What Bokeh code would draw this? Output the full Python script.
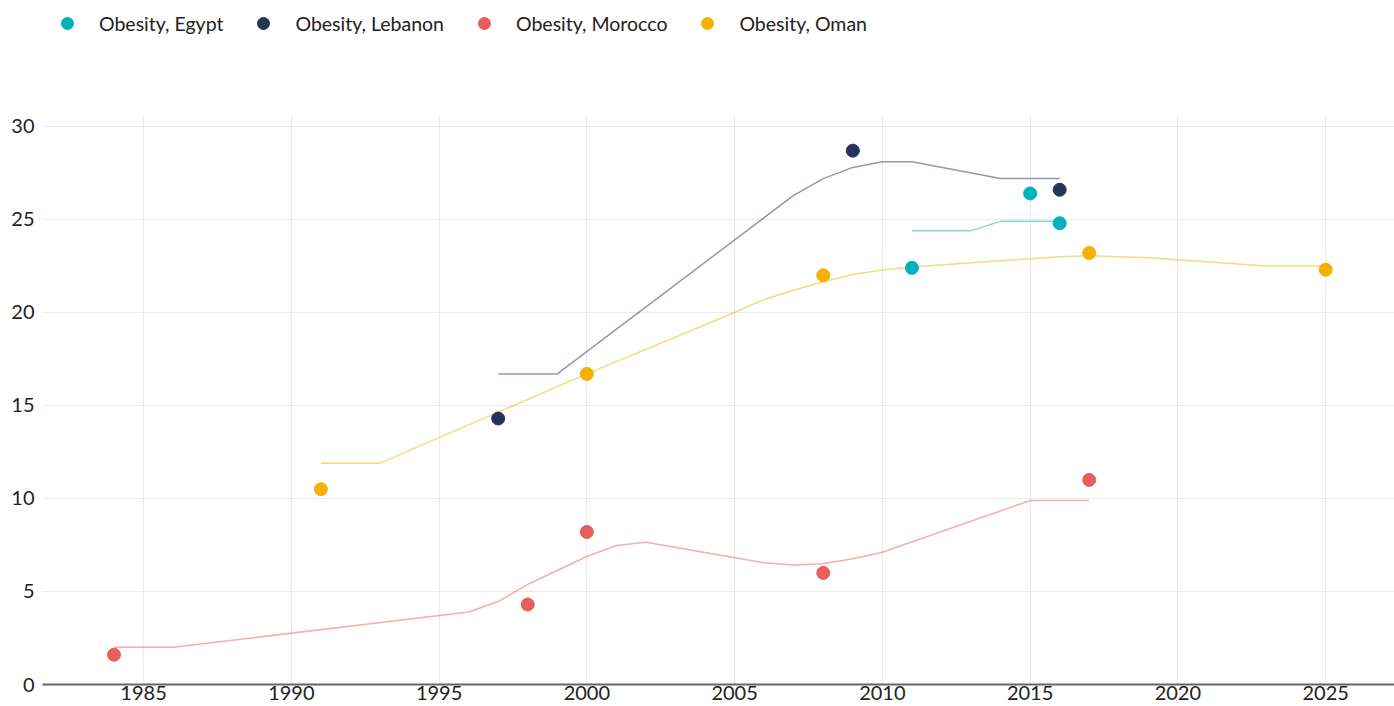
from bokeh.plotting import figure
from bokeh.models import Legend, LegendItem, FixedTicker, Range1d
from bokeh.layouts import column
from bokeh.embed import file_html
from bokeh.resources import INLINE

# Observed data points
egypt_years = [2011, 2015, 2016]
egypt_vals = [22.4, 26.4, 24.8]
lebanon_years = [1997, 2009, 2016]
lebanon_vals = [14.3, 28.7, 26.6]
morocco_years = [1984, 1998, 2000, 2008, 2017]
morocco_vals = [1.6, 4.3, 8.2, 6.0, 11.0]
oman_years = [1991, 2000, 2008, 2017, 2025]
oman_vals = [10.5, 16.7, 22.0, 23.2, 22.3]

# Trend lines
egypt_trend_years = [2011, 2013, 2014, 2016]
egypt_trend_vals = [24.4, 24.4, 24.9, 24.9]
lebanon_trend_years = [1997, 1999, 2007, 2008, 2009, 2010, 2011, 2014, 2016]
lebanon_trend_vals = [16.7, 16.7, 26.3, 27.2, 27.8, 28.1, 28.1, 27.2, 27.2]
morocco_trend_years = [1984, 1986, 1996, 1997, 1998, 1999, 2000, 2001, 2002, 2006, 2007, 2008, 2009, 2010, 2015, 2017]
morocco_trend_vals = [2.0, 2.0, 3.9, 4.46, 5.38, 6.13, 6.88, 7.47, 7.65, 6.54, 6.43, 6.49, 6.76, 7.11, 9.89, 9.89]
oman_trend_years = [1991, 1993, 2000, 2005, 2006, 2007, 2008, 2009, 2010, 2011, 2016, 2017, 2019, 2023, 2025]
oman_trend_vals = [11.9, 11.9, 16.7, 20.0, 20.7, 21.2, 21.65, 22.04, 22.29, 22.45, 23.0, 23.05, 22.95, 22.5, 22.5]

series_labels = ["Obesity, Egypt", "Obesity, Lebanon", "Obesity, Morocco", "Obesity, Oman"]
colors = ["#00B2BB", "#28335C", "#E85D5D", "#F5B100"]

x_ticks = [1985, 1990, 1995, 2000, 2005, 2010, 2015, 2020, 2025]
y_ticks = [0, 5, 10, 15, 20, 25, 30]

FONT = "Lato"
TEXT_COLOR = "#222222"

# ---------- main chart ----------
p = figure(width=1394, height=660, output_backend="svg", toolbar_location=None,
           x_range=Range1d(1981.58, 2027.33), y_range=Range1d(0, 30.645),
           min_border_left=42, min_border_right=0, min_border_top=68, min_border_bottom=22)
p.outline_line_color = None
p.background_fill_color = "white"
p.border_fill_color = "white"

p.xgrid.grid_line_color = "#EBEBEB"
p.ygrid.grid_line_color = "#EBEBEB"
p.xgrid.ticker = FixedTicker(ticks=x_ticks)
p.ygrid.ticker = FixedTicker(ticks=y_ticks)

p.xaxis.ticker = FixedTicker(ticks=x_ticks)
p.yaxis.ticker = FixedTicker(ticks=y_ticks)
for ax in (p.xaxis, p.yaxis):
    ax.major_tick_line_color = None
    ax.minor_tick_line_color = None
    ax.major_tick_out = 0
    ax.major_tick_in = 0
    ax.major_label_text_font = FONT
    ax.major_label_text_font_size = "20px"
    ax.major_label_text_color = TEXT_COLOR
p.xaxis.axis_line_color = "#666666"
p.xaxis.axis_line_width = 2
p.xaxis.major_label_standoff = 1
p.yaxis.axis_line_color = None
p.yaxis.major_label_standoff = 8

trends = [(egypt_trend_years, egypt_trend_vals), (lebanon_trend_years, lebanon_trend_vals),
          (morocco_trend_years, morocco_trend_vals), (oman_trend_years, oman_trend_vals)]
points = [(egypt_years, egypt_vals), (lebanon_years, lebanon_vals),
          (morocco_years, morocco_vals), (oman_years, oman_vals)]

for (tx, ty), c in zip(trends, colors):
    p.line(tx, ty, line_color=c, line_alpha=0.5, line_width=1.5)

for (px, py), c in zip(points, colors):
    p.scatter(px, py, size=13, marker="circle", fill_color=c, line_color=c)

# ---------- legend strip ----------
# legend-only renderers: series points plotted outside this strip's visible range
lg = figure(width=1394, height=46, output_backend="svg", toolbar_location=None,
            x_range=Range1d(0, 1), y_range=Range1d(0, 1),
            x_axis_location=None, y_axis_location=None,
            min_border_left=0, min_border_right=0, min_border_top=0, min_border_bottom=0)
lg.outline_line_color = None
lg.xgrid.visible = False
lg.ygrid.visible = False
items = []
for (px, py), c, lab in zip(points, colors, series_labels):
    r = lg.scatter(px[:1], py[:1], size=13, marker="circle", fill_color=c, line_color=c)
    items.append(LegendItem(label=lab, renderers=[r]))
legend = Legend(items=items, orientation="horizontal", location=(10, 8),
                label_text_font=FONT, label_text_font_size="19.5px", label_text_color=TEXT_COLOR,
                glyph_width=30, glyph_height=30, label_standoff=17, spacing=25,
                padding=0, margin=0, border_line_color=None, background_fill_alpha=0)
lg.add_layout(legend, "center")

open("out.html", "w").write(file_html(column(lg, p, spacing=0), INLINE))
